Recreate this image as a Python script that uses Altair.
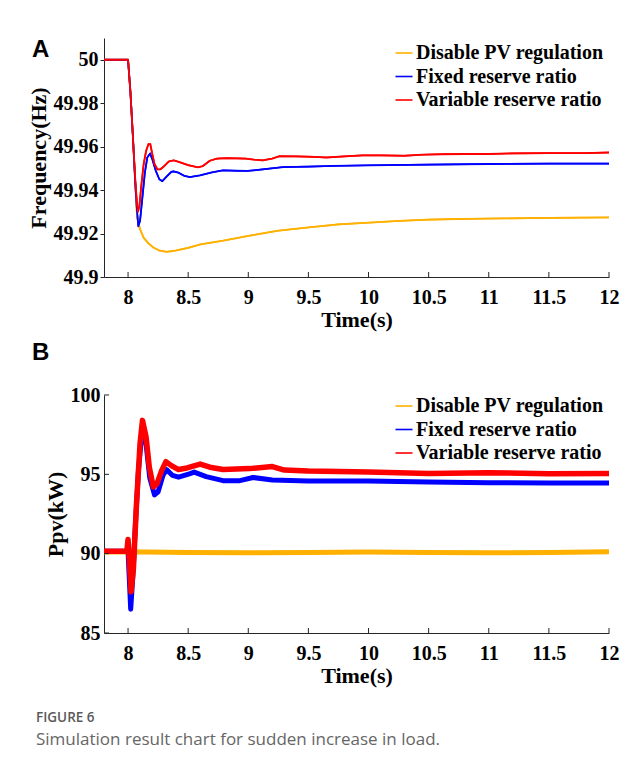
import altair as alt
import pandas as pd

# ---------------- data ----------------
SERIES = ["Disable PV regulation", "Fixed reserve ratio", "Variable reserve ratio"]
COLORS = ["#FFB000", "#0000FF", "#FF0000"]

X_TICKS = [8, 8.5, 9, 9.5, 10, 10.5, 11, 11.5, 12]
A_Y_TICKS = [49.9, 49.92, 49.94, 49.96, 49.98, 50]
B_Y_TICKS = [85, 90, 95, 100]

# Panel A : frequency (Hz)
A_T_DISABLE = [7.8, 8.0, 8.02, 8.04, 8.06, 8.075, 8.1, 8.13, 8.17, 8.21, 8.26, 8.32, 8.4, 8.5,
               8.6, 8.79, 9.01, 9.25, 9.5, 9.75, 10.0, 10.25, 10.5, 10.75, 11.0, 11.5, 12.0]
A_F_DISABLE = [50, 50, 49.985, 49.965, 49.943, 49.9275, 49.922, 49.918, 49.9155, 49.9136, 49.9122,
               49.9116, 49.9122, 49.9134, 49.915, 49.9167, 49.919, 49.9213, 49.9228, 49.9242,
               49.925, 49.9258, 49.9264, 49.9267, 49.9269, 49.9272, 49.9274]

A_T_FIXED = [7.8, 8.0, 8.02, 8.04, 8.06, 8.075, 8.086, 8.1, 8.12, 8.14, 8.16, 8.183, 8.2, 8.23,
             8.26, 8.285, 8.32, 8.36, 8.377, 8.42, 8.47, 8.515, 8.6, 8.7, 8.79, 8.9, 8.99, 9.1,
             9.29, 9.5, 9.7, 10.0, 10.5, 11.0, 11.5, 12.0]
A_F_FIXED = [50, 50, 49.985, 49.965, 49.943, 49.93, 49.9233, 49.926, 49.937, 49.948, 49.955,
             49.9568, 49.9545, 49.949, 49.945, 49.9441, 49.9462, 49.9484, 49.9486, 49.948,
             49.9465, 49.946, 49.9468, 49.9482, 49.9491, 49.9489, 49.9488, 49.9494, 49.9506,
             49.9508, 49.9511, 49.9514, 49.9517, 49.952, 49.9522, 49.9522]

A_T_VAR = [7.8, 8.0, 8.02, 8.04, 8.06, 8.075, 8.083, 8.095, 8.11, 8.13, 8.15, 8.17, 8.185, 8.2,
           8.22, 8.245, 8.27, 8.3, 8.34, 8.38, 8.42, 8.5, 8.58, 8.62, 8.68, 8.74, 8.82, 8.9,
           8.98, 9.05, 9.12, 9.2, 9.26, 9.4, 9.55, 9.65, 9.8, 9.95, 10.1, 10.3, 10.45, 10.6,
           10.8, 11.0, 11.2, 11.5, 11.8, 12.0]
A_F_VAR = [50, 50, 49.985, 49.965, 49.945, 49.933, 49.930, 49.933, 49.942, 49.952, 49.958,
           49.9612, 49.9612, 49.957, 49.952, 49.9495, 49.9496, 49.951, 49.9532, 49.9537,
           49.953, 49.9515, 49.9505, 49.951, 49.9535, 49.9545, 49.9547, 49.9546, 49.9545,
           49.954, 49.9537, 49.9545, 49.9556, 49.9555, 49.9553, 49.955, 49.9555, 49.956,
           49.956, 49.9558, 49.9563, 49.9565, 49.9566, 49.9566, 49.9569, 49.957, 49.957, 49.9573]

# Panel B : PV power (kW)
B_T_DISABLE = [7.8, 8.0, 8.5, 9.0, 9.5, 10.0, 10.5, 11.0, 11.5, 12.0]
B_P_DISABLE = [90.1, 90.12, 90.08, 90.05, 90.08, 90.1, 90.08, 90.05, 90.08, 90.12]

B_T_FIXED = [7.8, 8.0, 8.01, 8.022, 8.04, 8.06, 8.086, 8.12, 8.15, 8.18, 8.22, 8.25, 8.29,
             8.32, 8.37, 8.42, 8.51, 8.55, 8.65, 8.79, 8.93, 9.04, 9.2, 9.5, 10.0, 10.5,
             11.0, 11.5, 12.0]
B_P_FIXED = [90.15, 90.15, 88.5, 86.5, 88.6, 91.65, 95.2, 98.0, 96.9, 94.8, 93.7, 93.9, 94.93,
             95.3, 94.93, 94.82, 95.03, 95.14, 94.86, 94.6, 94.6, 94.8, 94.64, 94.58, 94.58,
             94.51, 94.47, 94.46, 94.45]

B_T_VAR = [7.8, 7.99, 8.0, 8.025, 8.045, 8.07, 8.1, 8.12, 8.15, 8.177, 8.21, 8.24, 8.28,
           8.315, 8.36, 8.42, 8.49, 8.6, 8.68, 8.79, 9.01, 9.2, 9.3, 9.5, 10.0, 10.5, 11.0,
           11.5, 12.0]
B_P_VAR = [90.15, 90.15, 90.9, 87.6, 89.1, 93.1, 96.95, 98.4, 97.35, 95.45, 94.2, 94.4, 95.25,
           95.8, 95.55, 95.3, 95.4, 95.65, 95.45, 95.3, 95.36, 95.49, 95.27, 95.21, 95.15,
           95.06, 95.1, 95.04, 95.06]

CAPTION_1 = "FIGURE 6"
CAPTION_2 = "Simulation result chart for sudden increase in load."

# ---------------- layout constants ----------------
W = 505
HA = 239
HB = 238
SERIF = "Liberation Serif"
AXIS_COLOR = "#262626"


def frame(ts, vs, name):
    return pd.DataFrame({"t": ts, "v": vs, "series": name})


color_scale = alt.Scale(domain=SERIES, range=COLORS)
x_scale = alt.Scale(domain=[7.8, 12], nice=False, zero=False)


def x_enc():
    return alt.X("t:Q", scale=x_scale,
                 axis=alt.Axis(values=X_TICKS, format="~r", tickSize=0, labelPadding=10,
                               labelOverlap=False, labelFlush=False, title="Time(s)",
                               titlePadding=2))


def panel(frames, y_domain, y_ticks, y_title, legend_x, legend_y, stroke, y_tick_out, y_lab_pad, height):
    y_axis = alt.Axis(values=y_ticks, format="~r", tickSize=4 if y_tick_out else 0,
                      tickColor=AXIS_COLOR, labelPadding=y_lab_pad, title=y_title,
                      titlePadding=3, labelOverlap=False, labelFlush=False)
    y_scale = alt.Scale(domain=y_domain, nice=False, zero=False)
    legend = alt.Legend(orient="none", legendX=legend_x, legendY=legend_y, title=None,
                        symbolType="stroke", symbolSize=289, symbolStrokeWidth=1.6,
                        labelFont=SERIF, labelFontWeight="bold", labelFontSize=20,
                        labelColor="black", labelOffset=2, rowPadding=3.5, padding=0,
                        labelLimit=400)
    layers = []
    # thin layer carrying the legend (drawn first, hidden beneath)
    thin = pd.concat(frames, ignore_index=True)
    layers.append(
        alt.Chart(thin).mark_line(strokeWidth=1.6).encode(
            x=x_enc(),
            y=alt.Y("v:Q", scale=y_scale, axis=y_axis),
            color=alt.Color("series:N", scale=color_scale, legend=legend),
            detail="series:N",
        )
    )
    for df, sw in zip(frames, stroke):
        layers.append(
            alt.Chart(df).mark_line(strokeWidth=sw, strokeJoin="round").encode(
                x=x_enc(),
                y=alt.Y("v:Q", scale=y_scale, axis=y_axis),
                color=alt.Color("series:N", scale=color_scale, legend=None),
            )
        )
    # inward x ticks
    xt = alt.Chart(pd.DataFrame({"t": X_TICKS})).mark_rule(color=AXIS_COLOR, strokeWidth=1).encode(
        x=alt.X("t:Q", scale=x_scale), y=alt.value(height), y2=alt.value(height - 5))
    layers.append(xt)
    if not y_tick_out:
        yt = alt.Chart(pd.DataFrame({"v": y_ticks})).mark_rule(color=AXIS_COLOR, strokeWidth=1).encode(
            y=alt.Y("v:Q", scale=y_scale), x=alt.value(0), x2=alt.value(5))
        layers.append(yt)
    return layers


a_layers = panel(
    [frame(A_T_DISABLE, A_F_DISABLE, SERIES[0]),
     frame(A_T_FIXED, A_F_FIXED, SERIES[1]),
     frame(A_T_VAR, A_F_VAR, SERIES[2])],
    [49.9, 50.01], A_Y_TICKS, "Frequency(Hz)", 290, 5, [1.8, 1.8, 1.8], True, 2, HA)

a_letter = alt.Chart(pd.DataFrame({"s": ["A"]})).mark_text(
    font="Liberation Sans", fontWeight="bold", fontSize=24, align="left",
    baseline="alphabetic", color="black").encode(
    text="s:N", x=alt.value(-72), y=alt.value(19))

chart_a = alt.layer(*a_layers, a_letter).properties(width=W, height=HA)

b_layers = panel(
    [frame(B_T_DISABLE, B_P_DISABLE, SERIES[0]),
     frame(B_T_FIXED, B_P_FIXED, SERIES[1]),
     frame(B_T_VAR, B_P_VAR, SERIES[2])],
    [85, 100], B_Y_TICKS, "Ppv(kW)", 290, 1, [5, 5, 5.5], False, 4, HB)

b_letter = alt.Chart(pd.DataFrame({"s": ["B"]})).mark_text(
    font="Liberation Sans", fontWeight="bold", fontSize=24, align="left",
    baseline="alphabetic", color="black").encode(
    text="s:N", x=alt.value(-72), y=alt.value(-35))

cap1 = alt.Chart(pd.DataFrame({"s": [CAPTION_1]})).mark_text(
    font="Open Sans", fontWeight=600, fontSize=13.5, align="left", baseline="alphabetic",
    color="#5a5a5a").encode(text="s:N", x=alt.value(-68), y=alt.value(327))
cap2 = alt.Chart(pd.DataFrame({"s": [CAPTION_2]})).mark_text(
    font="Open Sans", fontSize=17, align="left", baseline="alphabetic",
    color="#666666").encode(text="s:N", x=alt.value(-68), y=alt.value(350))

chart_b = alt.layer(*b_layers, b_letter, cap1, cap2).properties(width=W, height=HB)

chart = alt.vconcat(chart_a, chart_b, spacing=11).resolve_legend(
    color="independent").resolve_scale(y="independent").properties(
    padding={"left": 19, "top": 30, "right": 5, "bottom": 5}
).configure_view(stroke=None).configure_axis(
    domainColor=AXIS_COLOR, domainWidth=1, grid=False,
    labelFont=SERIF, labelFontWeight="bold", labelFontSize=20, labelColor="black",
    titleFont=SERIF, titleFontWeight="bold", titleFontSize=22, titleColor="black",
)

chart.save("out.html", embed_options={"renderer": "svg", "actions": False})
